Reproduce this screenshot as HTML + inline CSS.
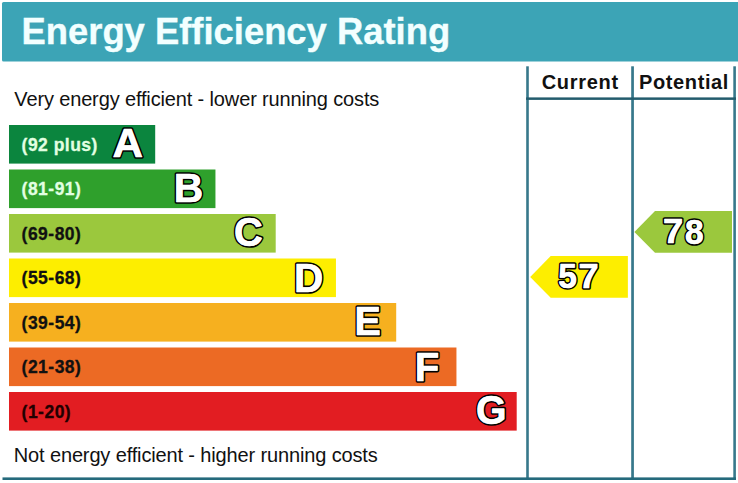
<!DOCTYPE html>
<html><head><meta charset="utf-8"><style>
html,body{margin:0;padding:0;background:#fff;width:738px;height:483px;overflow:hidden}
svg{display:block}
text{font-family:"Liberation Sans",sans-serif;font-variant-ligatures:none}
.lab{font-size:17.5px;font-weight:bold;letter-spacing:0.48px;stroke-width:0.3px}
.big{font-size:42px;font-weight:bold;fill:#fff;stroke:#000;stroke-width:3.8px;paint-order:stroke;stroke-linejoin:round}
.bigw{font-size:42px;font-weight:bold;fill:#fff;stroke:#fff;stroke-width:0.5px;stroke-linejoin:round}
.numw{font-size:36px;font-weight:bold;fill:#fff;stroke:#fff;stroke-width:0.5px;stroke-linejoin:round}
.num{font-size:36px;font-weight:bold;fill:#fff;stroke:#000;stroke-width:3.8px;paint-order:stroke;stroke-linejoin:round}
</style></head><body>
<svg width="738" height="483" viewBox="0 0 738 483">
<rect x="2" y="2" width="745" height="59.5" rx="1.5" fill="#3ca4b6"/>
<text x="21.5" y="43.7" font-size="36.4" font-weight="bold" fill="#f2ffff" stroke="#f2ffff" stroke-width="0.35" transform="matrix(1 0 0 1.015 0 -0.656)">Energy Efficiency Rating</text>
<text x="14.3" y="105.8" font-size="20" fill="#111" style="letter-spacing:-0.14px">Very energy efficient - lower running costs</text>
<text x="13.8" y="461.7" font-size="20" fill="#111" style="letter-spacing:-0.14px">Not energy efficient - higher running costs</text>
<rect x="9" y="125.00" width="146.20" height="38.6" fill="#0b853e"/>
<text x="21.6" y="150.50" class="lab" fill="#e2ffe2" stroke="#e2ffe2">(92 plus)</text>
<g transform="matrix(1.0063 0 0 0.9697 -1.506 4.048)"><text x="113.40" y="157.70" class="big">A</text><text x="113.40" y="157.70" class="bigw">A</text></g>
<rect x="9" y="169.50" width="206.45" height="38.6" fill="#2fa02c"/>
<text x="21.6" y="195.00" class="lab" fill="#e2ffe2" stroke="#e2ffe2">(81-91)</text>
<g transform="matrix(0.9724 0 0 0.9727 4.928 5.764)"><text x="173.65" y="202.20" class="big">B</text><text x="173.65" y="202.20" class="bigw">B</text></g>
<rect x="9" y="214.00" width="266.70" height="38.6" fill="#9bc83d"/>
<text x="21.6" y="239.50" class="lab" fill="#111" stroke="#111">(69-80)</text>
<g transform="matrix(0.9484 0 0 0.9788 12.177 4.682)"><text x="233.90" y="246.70" class="big">C</text><text x="233.90" y="246.70" class="bigw">C</text></g>
<rect x="9" y="258.50" width="326.95" height="38.6" fill="#fdee00"/>
<text x="21.6" y="284.00" class="lab" fill="#111" stroke="#111">(55-68)</text>
<g transform="matrix(0.9655 0 0 0.9818 10.107 5.727)"><text x="294.15" y="291.20" class="big">D</text><text x="294.15" y="291.20" class="bigw">D</text></g>
<rect x="9" y="303.00" width="387.20" height="38.6" fill="#f6b01f"/>
<text x="21.6" y="328.50" class="lab" fill="#111" stroke="#111">(39-54)</text>
<g transform="matrix(0.9407 0 0 0.9848 21.196 4.721)"><text x="354.40" y="335.70" class="big">E</text><text x="354.40" y="335.70" class="bigw">E</text></g>
<rect x="9" y="347.50" width="447.45" height="38.6" fill="#ec6a24"/>
<text x="21.6" y="373.00" class="lab" fill="#111" stroke="#111">(21-38)</text>
<g transform="matrix(0.9560 0 0 0.9818 18.404 7.545)"><text x="414.65" y="380.20" class="big">F</text><text x="414.65" y="380.20" class="bigw">F</text></g>
<rect x="9" y="392.00" width="507.70" height="38.6" fill="#e21d22"/>
<text x="21.6" y="417.50" class="lab" fill="#200" stroke="#200">(1-20)</text>
<g transform="matrix(0.9344 0 0 0.9636 32.372 15.127)"><text x="474.90" y="424.70" class="big">G</text><text x="474.90" y="424.70" class="bigw">G</text></g>
<g fill="#37788b">
<rect x="526.2" y="66.3" width="2.6" height="413.5"/>
<rect x="631.2" y="66.3" width="2.7" height="413.5"/>
<rect x="733.3" y="66.3" width="2.6" height="413.5"/>
<rect x="526.1" y="97.4" width="209.9" height="2.5" fill="#235c6d"/>
<rect x="2.5" y="477.4" width="733.5" height="2.6" fill="#256a7c"/>
</g>
<text x="541.7" y="89.2" font-size="20" font-weight="bold" fill="#111" style="letter-spacing:0.7px">Current</text>
<text x="639.0" y="88.9" font-size="20" font-weight="bold" fill="#111" style="letter-spacing:0.62px">Potential</text>
<path d="M530.2 276.9 L550.7 256 L627.9 256 L627.9 297.8 L550.7 297.8 Z" fill="#fdee00"/>
<path d="M634.4 231.9 L655 211 L732 211 L732 252.8 L655 252.8 Z" fill="#9bc83d"/>
<g transform="matrix(0.9286 0 0 0.9600 56.871 10.380)"><text x="540" y="289.5" class="num">5</text><text x="540" y="289.5" class="numw">5</text></g>
<g transform="matrix(1.0050 0 0 0.9533 -14.350 12.327)"><text x="590" y="289.5" class="num">7</text><text x="590" y="289.5" class="numw">7</text></g>
<g transform="matrix(1.0100 0 0 0.9633 6.500 7.857)"><text x="650" y="244.6" class="num">7</text><text x="650" y="244.6" class="numw">7</text></g>
<g transform="matrix(0.9286 0 0 0.9833 44.286 3.317)"><text x="690" y="244.6" class="num">8</text><text x="690" y="244.6" class="numw">8</text></g>
</svg>
</body></html>
